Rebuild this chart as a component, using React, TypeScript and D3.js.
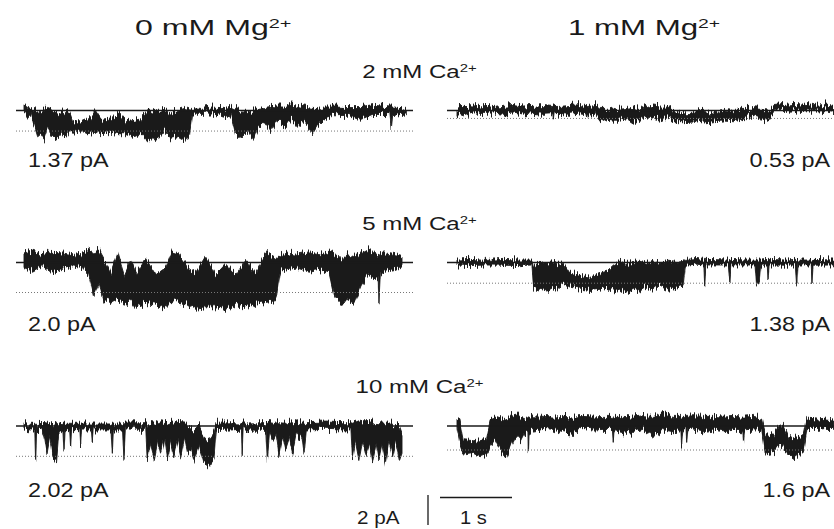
import React, { useEffect, useRef } from 'react';
import * as d3 from 'd3';

const W = 834;
const H = 529;

// envelope of each record: [time (s), upper edge, lower edge]
// edges in units of the unitary open level (0 = closed line, 1 = dotted open line)
const ca2Mg0 = [
  [0.00, -0.14, 0.12], [0.05, -0.2, 0.33], [0.1, -0.14, 0.14], [0.14, -0.1, 0.7], [0.19, -0.03, 1.28],
  [0.24, 0, 1.13], [0.28, 0.04, 1.35], [0.33, -0.1, 0.84], [0.38, -0.03, 1.2], [0.44, 0.04, 1.42],
  [0.51, 0.12, 1.13], [0.58, 0, 1.28], [0.63, 0.04, 0.99], [0.68, 0.55, 1.06], [0.79, 0.55, 0.99],
  [0.88, 0.41, 1.13], [0.99, 0.04, 1.06], [1.07, 0.48, 1.13], [1.21, 0.41, 1.06], [1.32, 0.12, 1.13],
  [1.42, 0.55, 1.13], [1.53, 0.48, 1.28], [1.62, 0.41, 1.13], [1.72, 0, 1.49], [1.79, 0.12, 1.28],
  [1.86, 0.04, 1.42], [1.95, 0, 0.99], [2.04, 0.12, 1.35], [2.13, 0, 1.28], [2.23, -0.1, 1.49],
  [2.3, -0.03, 1.13], [2.34, -0.14, 0.12], [2.46, -0.1, 0.14], [2.6, -0.17, 0.12], [2.74, -0.14, 0.19],
  [2.88, -0.2, 0.33], [2.94, -0.1, 1.13], [3.01, -0.03, 1.35], [3.11, 0, 0.99], [3.18, 0.04, 1.42],
  [3.25, -0.1, 0.84], [3.34, -0.14, 0.55], [3.43, -0.2, 0.99], [3.52, -0.17, 0.48], [3.62, -0.17, 0.84],
  [3.71, -0.32, 0.41], [3.8, -0.25, 0.77], [3.89, -0.17, 0.55], [4.01, -0.1, 1.13], [4.08, -0.1, 0.7],
  [4.17, -0.17, 0.41], [4.31, -0.17, 0.26], [4.5, -0.14, 0.23], [4.68, -0.14, 0.48], [4.87, -0.25, 0.19],
  [5.08, -0.17, 0.2], [5.1, -0.17, 0.9], [5.12, -0.17, 0.2], [5.24, -0.14, 0.14], [5.31, -0.1, 0.12],
];

const ca2Mg1 = [
  [0, -0.44, 0.37], [0.09, -0.52, 0.67], [0.23, -0.44, 0.3], [0.37, -0.63, 0.37], [0.5, -0.37, 0.3],
  [0.64, -0.52, 0.48], [0.78, -0.63, 0.3], [0.92, -0.44, 0.59], [1.06, -0.52, 0.37], [1.2, -0.63, 0.48],
  [1.33, -0.5, 0.4], [1.34, -0.44, 1.22], [1.35, -0.5, 0.4], [1.43, -0.52, 0.37], [1.57, -0.63, 0.48],
  [1.71, -0.74, 0.3], [1.79, -0.63, 0.4], [1.8, -0.63, 0.85], [1.81, -0.63, 0.4],
  [1.92, -0.74, 0.48], [1.99, -0.26, 1.41], [2.08, -0.26, 1.04], [2.17, -0.44, 1.22], [2.26, -0.15, 1.22],
  [2.36, -0.26, 1.04], [2.45, -0.44, 1.59], [2.54, -0.07, 1.22], [2.68, -0.63, 0.85], [2.82, -0.44, 1.22],
  [2.91, -0.44, 0.85], [3.0, 0.11, 1.41], [3.14, 0.3, 1.41], [3.28, 0.22, 1.33], [3.42, 0.11, 1.59],
  [3.56, 0.3, 1.41], [3.7, 0.11, 1.33], [3.84, 0.22, 1.41], [3.95, -0.26, 1.22], [4.07, -0.26, 0.67],
  [4.21, -0.15, 1.04], [4.32, -0.07, 1.22], [4.4, -0.63, 0.11], [4.53, -0.74, 0], [4.67, -0.89, -0.07],
  [4.81, -0.81, 0], [4.95, -0.63, 0.11], [5.09, -0.74, 0], [5.23, -0.52, 0.22],
];

const ca5Mg0 = [
  [0, -0.32, 0.17], [0.12, -0.38, 0.29], [0.25, -0.26, 0.11], [0.39, -0.34, 0.35], [0.53, -0.32, 0.23],
  [0.67, -0.26, 0.11], [0.81, -0.32, 0.17], [0.9, -0.44, 0.41], [0.97, -0.32, 1.11], [1.04, -0.38, 0.66],
  [1.11, -0.07, 1.27], [1.2, 0.35, 1.33], [1.3, -0.32, 1.21], [1.39, 0.41, 1.39], [1.48, -0.07, 1.27],
  [1.57, 0.35, 1.51], [1.69, -0.13, 1.33], [1.83, 0.41, 1.39], [1.97, 0.17, 1.51], [2.06, -0.38, 1.27],
  [2.15, -0.32, 1.33], [2.27, 0.17, 1.39], [2.38, 0.35, 1.56], [2.52, -0.2, 1.51], [2.66, 0.41, 1.51],
  [2.8, 0.05, 1.56], [2.94, 0.41, 1.39], [3.08, -0.07, 1.51], [3.22, 0.35, 1.39], [3.36, -0.32, 1.33],
  [3.5, -0.13, 1.27], [3.56, -0.26, 0.29], [3.68, -0.32, 0.23], [3.82, -0.26, 0.17], [3.96, -0.32, 0.29],
  [4.1, -0.26, 0.23], [4.24, -0.38, 0.35], [4.31, -0.32, 1.11], [4.4, -0.07, 1.33], [4.49, -0.26, 1.27],
  [4.58, -0.2, 1.39], [4.68, -0.32, 0.78], [4.77, -0.44, 0.41], [4.86, -0.32, 0.54], [4.92, -0.25, 0.5],
  [4.93, -0.2, 1.39], [4.95, -0.3, 0.4], [5.02, -0.32, 0.29], [5.16, -0.26, 0.23], [5.25, -0.2, 0.11],
];

const ca5Mg1 = [
  [0, -0.12, 0.12], [0.18, -0.15, 0.15], [0.41, -0.1, 0.12], [0.64, -0.15, 0.13], [0.88, -0.12, 0.15],
  [1.04, -0.12, 0.12], [1.06, 0.23, 1.19], [1.15, -0.06, 1.29], [1.25, 0.04, 1.38], [1.34, -0.06, 1.19],
  [1.41, 0.13, 1.29], [1.48, 0.04, 1.0], [1.57, 0.52, 1.19], [1.71, 0.62, 1.29], [1.85, 0.71, 1.35],
  [1.99, 0.52, 1.29], [2.08, 0.42, 1.19], [2.17, 0.13, 1.38], [2.26, -0.06, 1.29], [2.36, 0.04, 1.48],
  [2.45, 0, 1.29], [2.54, -0.06, 1.38], [2.63, 0.04, 1.19], [2.73, -0.06, 1.35], [2.82, 0.04, 1.1],
  [2.94, -0.06, 1.29], [3.05, 0, 1.19], [3.14, -0.06, 1.1], [3.17, -0.15, 0.13], [3.33, -0.19, 0.08],
  [3.43, -0.15, 0.12], [3.44, -0.15, 1.19], [3.455, -0.15, 0.12], [3.77, -0.12, 0.12], [3.79, -0.15, 0.9],
  [3.805, -0.15, 0.12], [4.02, -0.12, 0.12], [4.14, -0.12, 0.12], [4.16, -0.12, 1.1], [4.2, -0.12, 0.9],
  [4.22, -0.12, 0.13], [4.31, -0.15, 0.12], [4.32, -0.15, 0.81], [4.335, -0.15, 0.12], [4.58, -0.12, 0.13],
  [4.7, -0.15, 0.12], [4.72, -0.15, 1.15], [4.735, -0.12, 0.12], [4.92, -0.12, 0.12], [4.93, -0.12, 1.0],
  [4.945, -0.15, 0.13], [5.23, -0.12, 0.12],
];

const ca10Mg0 = [
  [0, -0.11, 0.07], [0.1, -0.09, 0.1], [0.15, -0.09, 0.1], [0.162, -0.09, 1.14], [0.175, -0.09, 0.12],
  [0.25, -0.08, 0.1], [0.29, -0.08, 0.5], [0.32, -0.06, 0.95], [0.36, -0.04, 0.4], [0.4, -0.04, 1.05],
  [0.45, -0.09, 1.19], [0.48, -0.06, 0.3], [0.54, -0.09, 0.12], [0.556, -0.09, 0.87], [0.57, -0.09, 0.12],
  [0.635, -0.09, 0.12], [0.648, -0.09, 0.7], [0.66, -0.09, 0.12], [0.775, -0.09, 0.12], [0.787, -0.09, 0.66],
  [0.8, -0.1, 0.1], [0.935, -0.1, 0.1], [0.949, -0.09, 0.55], [0.962, -0.1, 0.1], [1.21, -0.1, 0.1],
  [1.227, -0.09, 0.87], [1.24, -0.1, 0.1], [1.37, -0.1, 0.1], [1.389, -0.06, 1.14], [1.41, -0.1, 0.1],
  [1.69, -0.11, 0.11], [1.71, -0.09, 1.09], [1.75, -0.05, 0.6], [1.81, -0.03, 1.14], [1.86, -0.1, 0.5],
  [1.9, -0.14, 0.9], [1.95, -0.12, 0.4], [1.99, -0.09, 1.09], [2.04, -0.15, 0.5], [2.08, -0.17, 0.98],
  [2.13, -0.12, 0.45], [2.18, -0.11, 1.03], [2.23, -0.1, 0.4], [2.27, -0.09, 0.87], [2.32, 0.05, 0.8],
  [2.36, 0.13, 1.14], [2.43, -0.03, 0.66], [2.5, 0.34, 1.24], [2.57, 0.45, 1.34], [2.64, 0.23, 1.09],
  [2.67, -0.09, 0.15], [2.89, -0.11, 0.13], [3.02, -0.1, 0.1], [3.03, -0.09, 0.98], [3.045, -0.1, 0.1],
  [3.36, -0.11, 0.11], [3.38, -0.09, 1.14], [3.41, -0.08, 0.3], [3.45, -0.06, 0.55], [3.5, -0.1, 0.3],
  [3.54, -0.11, 0.98], [3.59, -0.1, 0.35], [3.63, -0.09, 0.77], [3.68, -0.12, 0.4], [3.73, -0.14, 0.93],
  [3.78, -0.1, 0.3], [3.82, -0.11, 0.45], [3.86, -0.1, 0.3], [3.89, -0.09, 0.87], [3.92, -0.11, 0.13],
  [4.19, -0.13, 0.11], [4.42, -0.11, 0.13], [4.54, -0.11, 0.13], [4.56, -0.09, 1.09], [4.6, -0.12, 0.5],
  [4.65, -0.17, 1.14], [4.7, -0.14, 0.5], [4.75, -0.14, 0.98], [4.8, -0.15, 0.6], [4.84, -0.19, 1.19],
  [4.89, -0.12, 0.5], [4.93, -0.11, 1.09], [4.97, -0.1, 0.6], [5.02, -0.09, 1.24], [5.07, -0.1, 0.5],
  [5.12, -0.09, 0.98], [5.16, -0.05, 0.5], [5.21, -0.03, 1.14], [5.25, 0.23, 0.87],
];

const ca10Mg1 = [
  [0, -0.33, 0.03], [0.04, -0.26, 0.74], [0.09, 0.53, 1.17], [0.23, 0.57, 1.1], [0.32, 0.53, 1.24],
  [0.41, 0.46, 1.14], [0.46, -0.26, 0.89], [0.53, -0.33, 0.6], [0.6, -0.26, 1.03], [0.67, -0.33, 1.31],
  [0.74, -0.4, 0.89], [0.81, -0.54, 0.46], [0.88, -0.33, 0.67], [0.94, -0.26, 0.31], [0.985, -0.3, 0.3],
  [0.99, -0.33, 1.17], [1.0, -0.35, 0.3], [1.06, -0.43, 0.17], [1.2, -0.4, 0.1], [1.34, -0.37, 0.14],
  [1.48, -0.4, 0.24], [1.62, -0.37, 0.31], [1.75, -0.4, 0.1], [1.89, -0.37, 0.17], [2.03, -0.4, 0.14],
  [2.16, -0.4, 0.15], [2.17, -0.43, 0.6], [2.18, -0.4, 0.15], [2.31, -0.4, 0.24], [2.45, -0.37, 0.31],
  [2.59, -0.43, 0.17], [2.73, -0.4, 0.39], [2.89, -0.54, 0.17], [3.0, -0.4, 0.24], [3.11, -0.4, 0.2],
  [3.12, -0.37, 0.81], [3.135, -0.4, 0.2], [3.18, -0.4, 0.2], [3.19, -0.4, 0.81], [3.205, -0.4, 0.2],
  [3.28, -0.43, 0.17], [3.42, -0.4, 0.24], [3.56, -0.4, 0.17], [3.7, -0.37, 0.24], [3.84, -0.4, 0.17],
  [3.97, -0.37, 0.2], [3.98, -0.37, 0.6], [3.99, -0.37, 0.2], [4.12, -0.4, 0.17], [4.23, -0.33, 0.14],
  [4.28, 0.31, 1.17], [4.4, 0.39, 1.1], [4.47, 0.03, 0.81], [4.53, -0.04, 0.89], [4.6, 0.46, 1.17],
  [4.67, 0.53, 1.39], [4.77, 0.46, 1.17], [4.81, 0.39, 1.1], [4.86, -0.33, 0.1], [5.0, -0.29, 0.1],
  [5.13, -0.33, 0.06], [5.23, -0.29, 0.06],
];

const records = [ca2Mg0, ca2Mg1, ca5Mg0, ca5Mg1, ca10Mg0, ca10Mg1];
const amplitudes = [1.37, 0.53, 2.0, 1.38, 2.02, 1.6]; // pA
const ampLabels = ['1.37 pA', '0.53 pA', '2.0 pA', '1.38 pA', '2.02 pA', '1.6 pA'];
const mgLabels = ['0 mM Mg', '1 mM Mg'];
const caLabels = ['2 mM Ca', '5 mM Ca', '10 mM Ca'];

const FONT = "Arimo, 'Liberation Sans', Arial, Helvetica, sans-serif";
const PX_PER_S = 72;
const PX_PER_PA = 15;

// layout
const rowY = [110.5, 262.5, 426];
const caY = [78, 230, 393];
const ampY = [167, 331, 497];
const panels = [
  { lineX0: 16, lineX1: 413, traceX0: 24, labelX: 28, anchor: 'start' },
  { lineX0: 447, lineX1: 834, traceX0: 457, labelX: 830, anchor: 'end' },
];

const App = () => {
  const svgRef = useRef(null);

  useEffect(() => {
    document.body.style.margin = '0';
    const svg = d3.select(svgRef.current);
    svg.selectAll('*').remove();

    // recording noise look: vertical jitter of the envelope edges
    const f = svg.append('defs').append('filter')
      .attr('id', 'noise')
      .attr('x', '-2%').attr('y', '-60%')
      .attr('width', '104%').attr('height', '220%')
      .attr('color-interpolation-filters', 'sRGB');
    f.append('feTurbulence')
      .attr('type', 'fractalNoise')
      .attr('baseFrequency', '0.7 0.015')
      .attr('numOctaves', 2)
      .attr('seed', 4)
      .attr('result', 'n');
    f.append('feColorMatrix')
      .attr('in', 'n')
      .attr('type', 'matrix')
      .attr('values', '0 0 0 0 0.5  0 1 0 0 0  0 0 0 0 0  0 0 0 0 1')
      .attr('result', 'm');
    f.append('feDisplacementMap')
      .attr('in', 'SourceGraphic')
      .attr('in2', 'm')
      .attr('scale', 15)
      .attr('xChannelSelector', 'R')
      .attr('yChannelSelector', 'G');

    const label = (x, y, txt, sup, size, sx, anchor) => {
      const t = svg.append('text')
        .attr('transform', `translate(${x},${y}) scale(${sx},1)`)
        .attr('font-family', FONT)
        .attr('font-size', size)
        .attr('fill', '#1a1a1a')
        .attr('text-anchor', anchor)
        .text(txt);
      if (sup) {
        t.append('tspan')
          .attr('font-size', size * 0.62)
          .attr('dy', -size * 0.33)
          .text(sup);
      }
    };

    // column titles
    label(135, 35, mgLabels[0], '2+', 22, 1.46, 'start');
    label(568, 35, mgLabels[1], '2+', 22, 1.42, 'start');

    caLabels.forEach((c, row) => {
      label(419.5, caY[row], c, '2+', 18.5, 1.3, 'middle');

      panels.forEach((p, col) => {
        const i = row * 2 + col;
        const amp = amplitudes[i];
        const data = records[i];
        const x = d3.scaleLinear().domain([0, 1]).range([p.traceX0, p.traceX0 + PX_PER_S]);
        const y = d3.scaleLinear().domain([0, -1]).range([rowY[row], rowY[row] + PX_PER_PA]);

        const area = d3.area()
          .x((d) => x(d[0]))
          .y0((d) => y(-d[1] * amp))
          .y1((d) => y(-d[2] * amp));

        svg.append('path')
          .attr('d', area(data))
          .attr('fill', '#1a1a1a')
          .attr('stroke', '#1a1a1a')
          .attr('stroke-width', 0.9)
          .attr('stroke-linejoin', 'round')
          .attr('filter', 'url(#noise)');

        // closed level
        svg.append('line')
          .attr('x1', p.lineX0).attr('x2', p.lineX1)
          .attr('y1', y(0)).attr('y2', y(0))
          .attr('stroke', '#1a1a1a')
          .attr('stroke-width', 1.3);

        // open level
        svg.append('line')
          .attr('x1', p.lineX0).attr('x2', p.lineX1)
          .attr('y1', y(-amp)).attr('y2', y(-amp))
          .attr('stroke', '#777')
          .attr('stroke-width', 1)
          .attr('stroke-dasharray', '1,2');

        label(p.labelX, ampY[row], ampLabels[i], null, 19.5, 1.2, p.anchor);
      });
    });

    // scale bars
    const barY = d3.scaleLinear().domain([0, -1]).range([495, 495 + PX_PER_PA]);
    svg.append('line')
      .attr('x1', 428).attr('x2', 428)
      .attr('y1', barY(0)).attr('y2', barY(-2))
      .attr('stroke', '#1a1a1a').attr('stroke-width', 1.3);
    const barX = d3.scaleLinear().domain([0, 1]).range([440, 440 + PX_PER_S]);
    svg.append('line')
      .attr('x1', barX(0)).attr('x2', barX(1))
      .attr('y1', 497.5).attr('y2', 497.5)
      .attr('stroke', '#1a1a1a').attr('stroke-width', 1.3);
    label(357, 524, '2 pA', null, 18.6, 1.11, 'start');
    label(460, 524, '1 s', null, 18.6, 1.08, 'start');
  }, []);

  return (
    <div style={{ width: W, height: H, background: '#fff' }}>
      <svg ref={svgRef} width={W} height={H} style={{ display: 'block' }}></svg>
    </div>
  );
};

export default App;
